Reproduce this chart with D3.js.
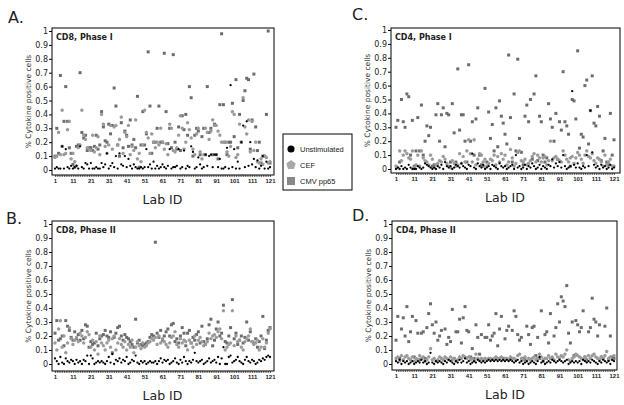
<!DOCTYPE html>
<html>
<head>
<meta charset="utf-8">
<script src="https://cdn.jsdelivr.net/npm/d3@7"></script>
<style>
  body { margin: 0; background: #fff; }
  svg { font-family: "DejaVu Sans", sans-serif; }
</style>
</head>
<body>
<svg id="chart" width="624" height="405"></svg>
<script>
// data: one value per lab (1..121), % cytokine positive cells
var labIds = d3.range(1, 122);
var yTicks = [0, 0.1, 0.2, 0.3, 0.4, 0.5, 0.6, 0.7, 0.8, 0.9, 1];
var xTicks = [1, 11, 21, 31, 41, 51, 61, 71, 81, 91, 101, 111, 121];
var seriesNames = ['Unstimulated', 'CEF', 'CMV pp65'];

// CD8, Phase I
var cd8p1Unstim = [0.01,0.02,0.01,0.01,0.17,0.01,0.15,0.02,0.01,0.03, 0.01,0.02,0.03,0.01,0.17,0.02,0.01,0.05,0.04,0.01,
  0.05,0.01,0.01,0.02,0.01,0.01,0.05,0.02,0.04,0.12, 0.01,0.03,0.05,0.02,0.1,0.01,0.12,0.04,0.03,0.1,
  0.02,0.08,0.03,0.01,0.04,0.02,0.01,0.01,0.02,0.01, 0.02,0.15,0.02,0.04,0.01,0.06,0.01,0.03,0.01,0.02,
  0.04,0.02,0.01,0.03,0.15,0.01,0.02,0.02,0.03,0.15, 0.01,0.02,0.14,0.01,0.03,0.02,0.17,0.13,0.01,0.02,
  0.09,0.04,0.01,0.02,0.11,0.03,0.1,0.11,0.02,0.11, 0.11,0.02,0.08,0.01,0.01,0.02,0.16,0.01,0.61,0.02,
  0.15,0.01,0.06,0.01,0.2,0.32,0.02,0.35,0.03,0.2, 0.04,0.08,0.02,0.07,0.01,0.03,0.1,0.01,0.06,0.01,0.02];
var cd8p1Cef = [0.09,0.1,0.27,0.11,0.43,0.11,0.12,0.29,0.35,0.08, 0.12,0.06,0.03,0.16,0.18,0.43,0.25,0.22,0.16,0.15,
  0.14,0.25,0.13,0.16,0.24,0.11,0.4,0.33,0.17,0.12, 0.18,0.32,0.15,0.31,0.32,0.18,0.22,0.38,0.12,0.27,
  0.24,0.32,0.11,0.17,0.14,0.36,0.08,0.12,0.06,0.18, 0.43,0.27,0.23,0.12,0.26,0.2,0.16,0.2,0.18,0.3,
  0.2,0.15,0.19,0.11,0.33,0.3,0.14,0.13,0.16,0.25, 0.39,0.3,0.15,0.2,0.34,0.29,0.23,0.15,0.11,0.26,
  0.3,0.13,0.08,0.11,0.3,0.27,0.22,0.28,0.36,0.32, 0.32,0.28,0.25,0.2,0.2,0.2,0.13,0.1,0.17,0.42,
  0.4,0.09,0.11,0.33,0.2,0.52,0.31,0.26,0.36,0.13, 0.35,0.14,0.2,0.06,0.05,0.08,0.04,0.1,0.09,0.05,0.06];
var cd8p1Cmv = [0.1,0.3,0.12,0.68,0.17,0.35,0.6,0.35,0.16,0.12, 0.04,0.02,0.17,0.18,0.7,0.27,0.23,0.25,0.14,0.16,
  0.16,0.14,0.17,0.25,0.15,0.18,0.42,0.31,0.21,0.2, 0.33,0.26,0.32,0.59,0.46,0.18,0.1,0.34,0.16,0.28,
  0.25,0.17,0.36,0.18,0.22,0.16,0.53,0.02,0.18,0.42, 0.18,0.26,0.85,0.46,0.12,0.2,0.2,0.3,0.46,0.2,
  0.2,0.84,0.42,0.19,0.3,0.16,0.83,0.2,0.15,0.31, 0.14,0.39,0.29,0.4,0.25,0.6,0.52,0.1,0.25,0.3,
  0.28,0.11,0.24,0.3,0.11,0.6,0.27,0.3,0.11,0.33, 0.11,0.08,0.47,0.98,0.47,0.2,0.11,0.2,0.2,0.48,
  0.24,0.65,0.16,0.4,0.2,0.5,0.57,0.66,0.65,0.15, 0.36,0.69,0.31,0.14,0.2,0.05,0.1,0.1,0.4,1.0,0.05];

// CD8, Phase II
var cd8p2Unstim = [0.04,0.02,0.0,0.05,0.01,0.0,0.04,0.02,0.01,0.03, 0.02,0.0,0.03,0.01,0.02,0.0,0.03,0.02,0.06,0.0,
  0.06,0.04,0.0,0.01,0.02,0.01,0.02,0.01,0.0,0.02, 0.05,0.01,0.07,0.0,0.03,0.02,0.04,0.01,0.03,0.02,
  0.05,0.0,0.01,0.03,0.02,0.06,0.01,0.0,0.02,0.01, 0.02,0.0,0.01,0.02,0.01,0.01,0.02,0.0,0.02,0.04,
  0.01,0.03,0.02,0.03,0.0,0.01,0.02,0.04,0.01,0.0, 0.03,0.01,0.05,0.02,0.0,0.02,0.01,0.03,0.08,0.02,
  0.01,0.02,0.03,0.0,0.01,0.02,0.04,0.01,0.02,0.03, 0.01,0.05,0.0,0.04,0.12,0.0,0.0,0.05,0.06,0.01,
  0.02,0.03,0.05,0.02,0.01,0.0,0.03,0.05,0.02,0.01, 0.03,0.02,0.0,0.01,0.03,0.02,0.04,0.03,0.05,0.06,0.05];
var cd8p2Cef = [0.15,0.1,0.25,0.31,0.12,0.2,0.08,0.15,0.26,0.18, 0.14,0.17,0.19,0.16,0.22,0.2,0.15,0.19,0.23,0.21,
  0.12,0.17,0.1,0.16,0.07,0.2,0.15,0.13,0.1,0.15, 0.17,0.12,0.18,0.2,0.1,0.15,0.18,0.14,0.12,0.16,
  0.1,0.14,0.12,0.17,0.08,0.12,0.16,0.13,0.11,0.15, 0.12,0.13,0.15,0.16,0.18,0.17,0.19,0.14,0.2,0.15,
  0.18,0.16,0.14,0.12,0.15,0.19,0.2,0.23,0.14,0.12, 0.18,0.15,0.17,0.16,0.1,0.17,0.15,0.12,0.2,0.14,
  0.17,0.19,0.16,0.13,0.14,0.16,0.22,0.18,0.2,0.21, 0.19,0.23,0.25,0.18,0.38,0.1,0.12,0.14,0.15,0.38,
  0.13,0.2,0.16,0.17,0.12,0.1,0.16,0.18,0.2,0.25, 0.16,0.14,0.15,0.17,0.1,0.12,0.18,0.12,0.15,0.22,0.25];
var cd8p2Cmv = [0.22,0.31,0.17,0.18,0.2,0.13,0.31,0.27,0.24,0.19, 0.17,0.23,0.18,0.21,0.17,0.24,0.18,0.28,0.27,0.12,
  0.16,0.14,0.15,0.22,0.13,0.18,0.2,0.21,0.24,0.2, 0.19,0.23,0.08,0.19,0.22,0.26,0.27,0.2,0.17,0.21,
  0.19,0.18,0.16,0.14,0.12,0.32,0.15,0.17,0.14,0.13, 0.14,0.15,0.16,0.19,0.21,0.2,0.87,0.22,0.19,0.24,
  0.17,0.2,0.23,0.25,0.2,0.28,0.29,0.16,0.18,0.15, 0.2,0.26,0.22,0.13,0.22,0.24,0.15,0.19,0.17,0.21,
  0.23,0.15,0.27,0.16,0.14,0.18,0.28,0.32,0.13,0.17, 0.25,0.3,0.2,0.22,0.42,0.16,0.15,0.2,0.26,0.46,
  0.18,0.22,0.14,0.17,0.2,0.15,0.19,0.3,0.17,0.23, 0.16,0.15,0.18,0.12,0.16,0.2,0.34,0.11,0.17,0.24,0.26];

// CD4, Phase I
var cd4p1Unstim = [0.0,0.01,0.0,0.02,0.0,0.01,0.0,0.03,0.01,0.0, 0.0,0.0,0.02,0.01,0.0,0.01,0.04,0.03,0.02,0.01,
  0.0,0.01,0.0,0.02,0.01,0.03,0.0,0.05,0.02,0.01, 0.02,0.0,0.01,0.03,0.02,0.01,0.04,0.02,0.01,0.0,
  0.03,0.02,0.11,0.01,0.0,0.04,0.02,0.01,0.03,0.0, 0.01,0.02,0.0,0.03,0.02,0.01,0.0,0.04,0.02,0.01,
  0.02,0.0,0.01,0.02,0.03,0.0,0.1,0.01,0.02,0.0, 0.01,0.03,0.0,0.02,0.01,0.04,0.02,0.0,0.01,0.03,
  0.0,0.02,0.01,0.0,0.03,0.02,0.07,0.01,0.04,0.02, 0.05,0.01,0.1,0.02,0.0,0.01,0.02,0.56,0.03,0.01,
  0.04,0.01,0.0,0.02,0.01,0.1,0.02,0.42,0.12,0.03, 0.01,0.02,0.0,0.03,0.01,0.02,0.0,0.01,0.03,0.0,0.01];
var cd4p1Cef = [0.02,0.01,0.13,0.06,0.1,0.13,0.11,0.08,0.07,0.13, 0.01,0.03,0.1,0.02,0.13,0.08,0.06,0.05,0.03,0.1,
  0.07,0.01,0.03,0.04,0.06,0.05,0.09,0.07,0.04,0.02, 0.01,0.06,0.04,0.02,0.03,0.11,0.04,0.09,0.05,0.13,
  0.21,0.11,0.05,0.21,0.03,0.07,0.11,0.1,0.05,0.07, 0.02,0.04,0.07,0.06,0.1,0.03,0.09,0.05,0.11,0.07,
  0.1,0.03,0.05,0.14,0.08,0.02,0.04,0.12,0.13,0.06, 0.05,0.07,0.03,0.04,0.06,0.09,0.11,0.05,0.1,0.08,
  0.05,0.08,0.09,0.03,0.06,0.2,0.06,0.08,0.09,0.07, 0.06,0.05,0.13,0.1,0.07,0.05,0.08,0.09,0.04,0.08,
  0.12,0.1,0.07,0.04,0.1,0.13,0.09,0.08,0.11,0.06, 0.04,0.08,0.07,0.05,0.02,0.1,0.03,0.05,0.07,0.02,0.02];
var cd4p1Cmv = [0.3,0.35,0.05,0.5,0.34,0.3,0.54,0.52,0.1,0.35, 0.02,0.13,0.37,0.13,0.46,0.1,0.2,0.31,0.24,0.3,
  0.02,0.03,0.39,0.47,0.2,0.39,0.44,0.16,0.4,0.39, 0.05,0.47,0.26,0.05,0.72,0.28,0.39,0.39,0.2,0.05,
  0.75,0.2,0.34,0.1,0.36,0.44,0.1,0.03,0.02,0.58, 0.05,0.41,0.22,0.32,0.13,0.44,0.16,0.49,0.38,0.33,
  0.25,0.18,0.82,0.37,0.05,0.54,0.13,0.79,0.22,0.12, 0.03,0.38,0.46,0.34,0.5,0.07,0.54,0.67,0.06,0.38,
  0.34,0.1,0.05,0.08,0.47,0.36,0.3,0.2,0.4,0.07, 0.34,0.28,0.7,0.34,0.31,0.25,0.02,0.5,0.49,0.36,
  0.85,0.15,0.25,0.23,0.6,0.64,0.18,0.42,0.67,0.33, 0.31,0.45,0.38,0.06,0.13,0.22,0.05,0.03,0.4,0.1,0.21];

// CD4, Phase II
var cd4p2Unstim = [0.02,0.01,0.03,0.0,0.02,0.01,0.02,0.0,0.01,0.02, 0.0,0.01,0.02,0.01,0.03,0.01,0.02,0.0,0.01,0.08,
  0.01,0.0,0.02,0.01,0.02,0.01,0.0,0.02,0.01,0.03, 0.02,0.01,0.0,0.02,0.01,0.03,0.01,0.02,0.04,0.01,
  0.02,0.0,0.01,0.02,0.01,0.03,0.02,0.01,0.02,0.01, 0.02,0.03,0.02,0.03,0.02,0.03,0.02,0.03,0.02,0.03,
  0.02,0.03,0.02,0.03,0.02,0.01,0.02,0.03,0.01,0.02, 0.0,0.01,0.02,0.0,0.01,0.02,0.01,0.0,0.02,0.05,
  0.01,0.02,0.0,0.01,0.02,0.01,0.03,0.02,0.01,0.02, 0.03,0.02,0.01,0.02,0.03,0.0,0.01,0.02,0.01,0.02,
  0.01,0.02,0.0,0.03,0.02,0.01,0.02,0.01,0.03,0.02, 0.01,0.0,0.02,0.01,0.03,0.02,0.01,0.02,0.0,0.03,0.02];
var cd4p2Cef = [0.04,0.05,0.02,0.06,0.03,0.05,0.06,0.04,0.03,0.05, 0.02,0.04,0.03,0.06,0.04,0.05,0.02,0.03,0.05,0.11,
  0.03,0.04,0.02,0.03,0.05,0.04,0.03,0.05,0.04,0.03, 0.05,0.03,0.04,0.02,0.03,0.05,0.04,0.06,0.05,0.04,
  0.05,0.03,0.04,0.02,0.07,0.04,0.03,0.04,0.03,0.04, 0.03,0.04,0.04,0.03,0.04,0.05,0.04,0.04,0.05,0.03,
  0.04,0.04,0.03,0.05,0.04,0.04,0.03,0.06,0.07,0.04, 0.03,0.05,0.02,0.04,0.03,0.04,0.05,0.03,0.04,0.07,
  0.05,0.03,0.04,0.04,0.06,0.04,0.05,0.03,0.07,0.05, 0.04,0.06,0.05,0.07,0.1,0.03,0.02,0.04,0.05,0.07,
  0.06,0.05,0.04,0.03,0.05,0.02,0.06,0.04,0.06,0.07, 0.05,0.04,0.03,0.05,0.04,0.06,0.09,0.04,0.05,0.03,0.06];
var cd4p2Cmv = [0.17,0.34,0.04,0.25,0.33,0.2,0.41,0.16,0.23,0.34, 0.05,0.31,0.22,0.03,0.22,0.23,0.04,0.26,0.36,0.43,
  0.28,0.22,0.3,0.17,0.2,0.24,0.03,0.25,0.14,0.19, 0.16,0.39,0.04,0.23,0.23,0.32,0.15,0.33,0.41,0.24,
  0.23,0.05,0.11,0.04,0.28,0.19,0.07,0.21,0.03,0.19, 0.19,0.28,0.17,0.2,0.22,0.36,0.13,0.25,0.34,0.04,
  0.18,0.24,0.27,0.04,0.24,0.38,0.34,0.21,0.17,0.19, 0.04,0.03,0.27,0.21,0.14,0.26,0.27,0.06,0.19,0.04,
  0.38,0.02,0.21,0.23,0.15,0.36,0.04,0.2,0.26,0.43, 0.3,0.48,0.45,0.41,0.56,0.22,0.15,0.3,0.06,0.31,
  0.28,0.23,0.26,0.38,0.05,0.03,0.23,0.26,0.47,0.32, 0.3,0.2,0.28,0.05,0.04,0.27,0.4,0.03,0.2,0.05,0.04];

var svg = d3.select('#chart');

// pentagon symbol for CEF
var pentagon = {
    draw: function(context, size) {
        var r = Math.sqrt(size / 2.378);
        for (var i = 0; i < 5; i++) {
            var a = -Math.PI / 2 + i * 2 * Math.PI / 5;
            if (i === 0) context.moveTo(r * Math.cos(a), r * Math.sin(a));
            else context.lineTo(r * Math.cos(a), r * Math.sin(a));
        }
        context.closePath();
    }
};

var styles = [
    {type: d3.symbolCircle, size: 4, color: '#000'},
    {type: pentagon, size: 9, color: '#9a9a9a'},
    {type: d3.symbolSquare, size: 9, color: '#6c6c6c'}
];

var panels = [
    {letter: 'A.', title: 'CD8, Phase I', series: [cd8p1Unstim, cd8p1Cef, cd8p1Cmv],
     box: [52, 28, 274, 175], x: [55, 270], y: [170, 31], lx: 8, ly: 23},
    {letter: 'B.', title: 'CD8, Phase II', series: [cd8p2Unstim, cd8p2Cef, cd8p2Cmv],
     box: [52, 221, 274, 371], x: [55, 270], y: [364, 224], lx: 6, ly: 224},
    {letter: 'C.', title: 'CD4, Phase I', series: [cd4p1Unstim, cd4p1Cef, cd4p1Cmv],
     box: [391, 28, 620, 173], x: [396, 614], y: [169, 30], lx: 352, ly: 20},
    {letter: 'D.', title: 'CD4, Phase II', series: [cd4p2Unstim, cd4p2Cef, cd4p2Cmv],
     box: [392, 221, 617, 370], x: [396, 614], y: [364, 224], lx: 352, ly: 221}
];

panels.forEach(function(p) {
    var g = svg.append('g');
    var x = d3.scaleLinear().domain([1, 121]).range(p.x);
    var y = d3.scaleLinear().domain([0, 1]).range(p.y);
    var b = p.box;

    g.append('text')
        .attr('x', p.lx).attr('y', p.ly)
        .attr('font-size', 16).attr('fill', '#222')
        .text(p.letter);

    // y axis
    var yAxis = g.append('g')
        .attr('transform', 'translate(' + b[0] + ',0)')
        .call(d3.axisLeft(y).tickValues(yTicks).tickSize(3).tickPadding(1)
            .tickFormat(function(d) { return d3.format('~g')(d) }));
    yAxis.select('.domain').remove();
    yAxis.selectAll('.tick text').attr('font-size', 8).attr('fill', '#222')
        .attr('font-family', 'DejaVu Sans');

    // x axis: a tick for every lab, labels every 10
    var xAxis = g.append('g')
        .attr('transform', 'translate(0,' + b[3] + ')')
        .call(d3.axisBottom(x).tickValues(labIds).tickSize(2).tickPadding(2)
            .tickFormat(function(d) { return xTicks.indexOf(d) >= 0 ? d : '' }));
    xAxis.select('.domain').remove();
    xAxis.selectAll('.tick line').attr('stroke-width', 0.6);
    xAxis.selectAll('.tick text').attr('font-size', 6).attr('font-weight', 'bold')
        .attr('font-family', 'Liberation Sans').attr('fill', '#222');

    g.append('text')
        .attr('x', (p.x[0] + p.x[1]) / 2).attr('y', b[3] + 29)
        .attr('text-anchor', 'middle').attr('font-size', 12.5).attr('fill', '#222')
        .text('Lab ID');

    g.append('text')
        .attr('transform', 'translate(' + (b[0] - 21) + ',' + ((b[1] + b[3]) / 2) + ') rotate(-90)')
        .attr('text-anchor', 'middle').attr('font-size', 7.5).attr('fill', '#333')
        .text('% Cytokine positive cells');

    // points: CMV, CEF, then unstimulated on top
    [2, 1, 0].forEach(function(si) {
        var st = styles[si];
        var sym = d3.symbol().type(st.type).size(st.size);
        g.append('g').selectAll('path')
            .data(p.series[si].map(function(v, i) { return {lab: labIds[i], v: v} }))
            .enter()
            .append('path')
            .attr('transform', function(d) { return 'translate(' + x(d.lab) + ',' + y(d.v) + ')' })
            .attr('d', sym)
            .attr('fill', st.color);
    });

    g.append('rect')
        .attr('x', b[0]).attr('y', b[1])
        .attr('width', b[2] - b[0]).attr('height', b[3] - b[1])
        .attr('fill', 'none').attr('stroke', '#000').attr('stroke-width', 1);

    g.append('text')
        .attr('x', b[0] + 4).attr('y', b[1] + 12)
        .attr('font-size', 8).attr('font-weight', 'bold').attr('fill', '#222')
        .text(p.title);
});

// legend
var legend = svg.append('g').attr('transform', 'translate(283,134)');
legend.append('rect')
    .attr('width', 69).attr('height', 56)
    .attr('fill', '#fff').attr('stroke', '#000').attr('stroke-width', 1);
var legendY = d3.scalePoint().domain(seriesNames).range([15, 47]);
var legendSizes = [40, 60, 64];
seriesNames.forEach(function(name, i) {
    var st = styles[i];
    legend.append('path')
        .attr('transform', 'translate(8,' + legendY(name) + ')')
        .attr('d', d3.symbol().type(st.type).size(legendSizes[i]))
        .attr('fill', i === 0 ? '#000' : (i === 1 ? '#a8a8a8' : '#888'));
    legend.append('text')
        .attr('x', 17).attr('y', legendY(name) + 3)
        .attr('font-size', 7.5).attr('fill', '#222')
        .attr('font-family', 'Liberation Sans')
        .text(name);
});
</script>
</body>
</html>
